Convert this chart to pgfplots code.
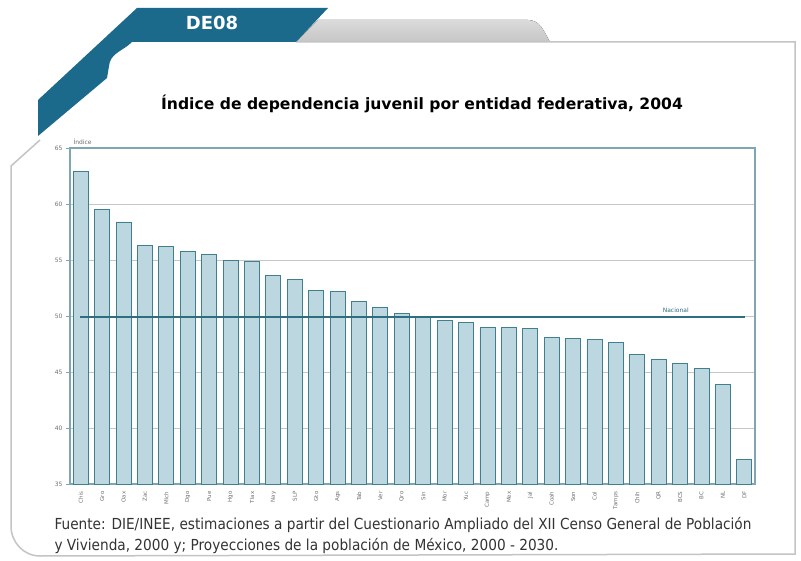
\documentclass[border=0pt]{standalone}
\usepackage{fontspec}
\setmainfont{DejaVu Sans}
\newfontfamily\condfont{DejaVu Sans Condensed}
\usepackage{pgfplots}
\pgfplotsset{compat=1.18}
\definecolor{tabblue}{HTML}{1B6A8C}
\definecolor{barfill}{HTML}{BCD7E0}
\definecolor{baredge}{HTML}{3F7F8E}
\definecolor{framec}{HTML}{7FA6B3}
\definecolor{nac}{HTML}{2E6E7E}
\definecolor{panelc}{HTML}{C4C4C4}
\definecolor{labc}{HTML}{707070}
\pgfplotstableread{
x val
1 62.9
2 59.5
3 58.4
4 56.3
5 56.2
6 55.8
7 55.5
8 55.0
9 54.9
10 53.6
11 53.3
12 52.3
13 52.2
14 51.3
15 50.8
16 50.2
17 49.85
18 49.6
19 49.4
20 48.95
21 48.95
22 48.9
23 48.1
24 48.0
25 47.9
26 47.6
27 46.6
28 46.1
29 45.8
30 45.3
31 43.9
32 37.2
}\datatable
\begin{document}
\begin{tikzpicture}
\begin{scope}[x=1pt,y=-1pt]
\path[use as bounding box, fill=white] (0,0) rectangle (801,561);
% gray tab
\fill[top color=gray!28, bottom color=gray!45] (296,42) -- (318,20) -- (528,20) to[out=0,in=120] (550,42) -- cycle;
% panel border
\draw[panelc, line width=1.5pt] (296,42) -- (795,42) -- (795,554) -- (40,556) to[out=180,in=270] (11,526) -- (11,166) -- (40,140);
% dark tab
\fill[tabblue] (137,8) -- (328,8) -- (296,42) -- (132,42) to[out=225,in=85] (109,66) -- (107,78) -- (38,136) -- (38,100) -- cycle;
\node[text=white, font=\bfseries\fontsize{18}{18}\selectfont] at (212,23) {DE08};
% title
\node[font=\bfseries\fontsize{15.6}{18}\selectfont] at (422,104) {Índice de dependencia juvenil por entidad federativa, 2004};
% source
\node[anchor=west, font=\condfont\fontsize{15.2}{17}\selectfont, text=black!80] at (51,525) {Fuente: DIE/INEE, estimaciones a partir del Cuestionario Ampliado del XII Censo General de Población};
\node[anchor=west, font=\condfont\fontsize{15.2}{17}\selectfont, text=black!80] at (51,546) {y Vivienda, 2000 y; Proyecciones de la población de México, 2000 - 2030.};
\end{scope}
\begin{axis}[
  at={(70pt,-484pt)}, anchor=south west,
  width=685pt, height=336pt, scale only axis,
  xmin=0.5, xmax=32.5, ymin=35, ymax=65,
  ytick={35,40,...,65},
  xtick={1,...,32},
  xticklabels={Chis,Gro,Oax,Zac,Mich,Dgo,Pue,Hgo,Tlax,Nay,SLP,Gto,Ags,Tab,Ver,Qro,Sin,Mor,Yuc,Camp,Mex,Jal,Coah,Son,Col,Tamps,Chih,QR,BCS,BC,NL,DF},
  x tick label style={rotate=90, anchor=east, font=\fontsize{5.5}{6}\selectfont, text=labc},
  y tick label style={font=\fontsize{6}{6}\selectfont, text=labc},
  /pgf/number format/assume math mode=true,
  xtick style={draw=none},
  ytick style={draw=framec, line width=0.6pt},
  tick align=outside, ytick pos=left,
  major tick length=4pt,
  ymajorgrids, grid style={gray!45, line width=0.7pt},
  axis line style={framec, line width=1.1pt},
  clip=false,
]
\addplot[ybar, bar width=15pt, bar shift=0pt, fill=barfill, draw=baredge, line width=0.8pt] table[x=x,y=val] {\datatable};
\addplot[nac, line width=2pt, sharp plot, mark=none] coordinates {(0.97,49.9) (32.03,49.9)};
\node[font=\fontsize{6}{6}\selectfont, text=nac, anchor=south] at (axis cs:28.8,50.0) {Nacional};
\node[font=\fontsize{6}{6}\selectfont, text=labc, anchor=south west] at (rel axis cs:0,1) {Índice};
\end{axis}
\end{tikzpicture}
\end{document}
